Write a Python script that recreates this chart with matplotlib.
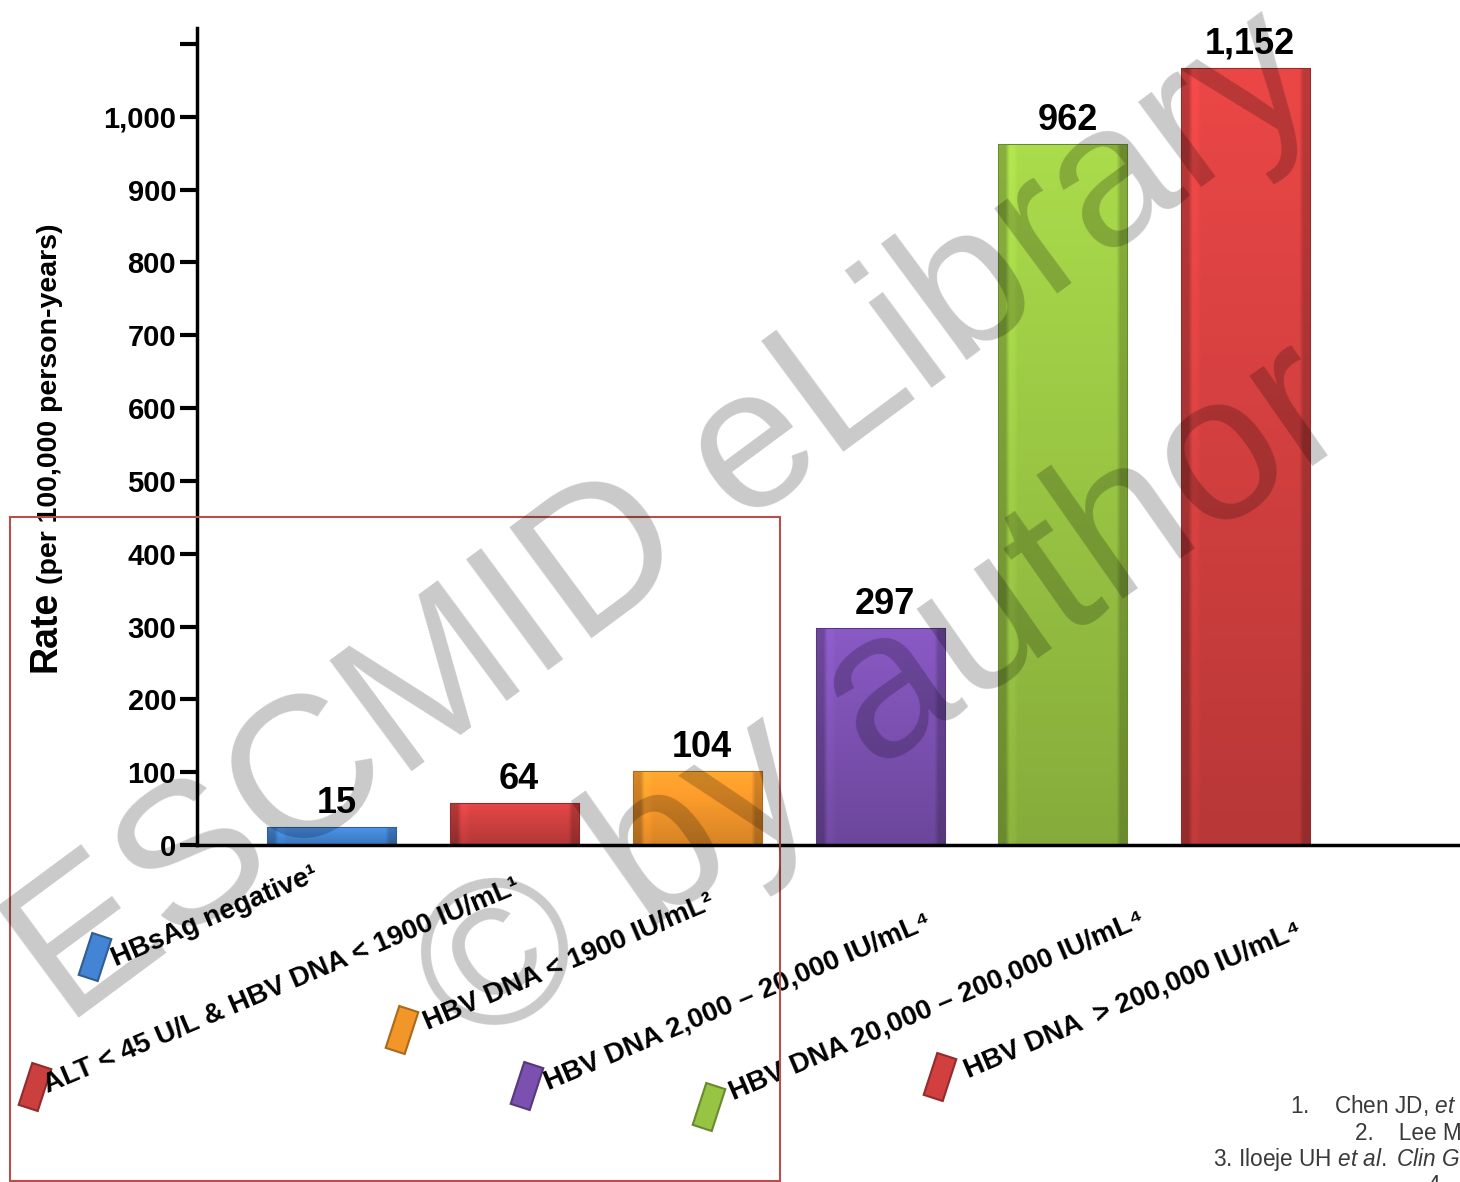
import numpy as np
import matplotlib.pyplot as plt
from matplotlib.patches import Rectangle
from matplotlib.transforms import Affine2D
from matplotlib.colors import to_rgb

# data
categories = ['HBsAg negative\u00b9',
              'ALT < 45 U/L & HBV DNA < 1900 IU/mL\u00b9',
              'HBV DNA < 1900 IU/mL\u00b2',
              'HBV DNA 2,000 \u2013 20,000 IU/mL\u2074',
              'HBV DNA 20,000 \u2013 200,000 IU/mL\u2074',
              'HBV DNA  > 200,000 IU/mL\u2074']
value_labels = ['15', '64', '104', '297', '962', '1,152']
bar_heights = [24, 56, 100, 297, 962, 1066]   # tops as drawn (last bar is cut short)
bar_colors = ['#4385d4', '#cc3f3f', '#f3962a', '#7b50b0', '#98c443', '#d23f3f']
yticks = [0, 100, 200, 300, 400, 500, 600, 700, 800, 900, 1000, 1100]
ytick_labels = ['0', '100', '200', '300', '400', '500', '600', '700', '800',
                '900', '1,000', '']
# reference lines, as far as they are visible
references = ['1.    Chen JD, $\\it{et}$',
              '2.    Lee M',
              '3. Iloeje UH $\\it{et\\ al.}$ $\\it{Clin\\ G}$',
              '4.']

plt.rcParams['font.family'] = ['Liberation Sans', 'DejaVu Sans']
plt.rcParams['mathtext.fontset'] = 'custom'
plt.rcParams['mathtext.rm'] = 'Liberation Sans'
plt.rcParams['mathtext.it'] = 'Liberation Sans:italic'

W, H = 1460, 1182
fig = plt.figure(figsize=(W / 100, H / 100), dpi=100)
# pixel coordinates, origin top-left
px = Affine2D().scale(1 / 100, -1 / 100).translate(0, H / 100) + fig.dpi_scale_trans

ax = fig.add_axes([197 / W, 1 - 845 / H, 1 - 197 / W, (845 - 28) / H])
x = np.arange(len(bar_heights))
bw = 0.70
bars = ax.bar(x, bar_heights, width=bw, color=bar_colors, zorder=2,
              linewidth=1.5, edgecolor=[tuple(c * 0.7 for c in to_rgb(col)) for col in bar_colors])

# bevel-ish shading inside each bar
for b, col in zip(bars, bar_colors):
    c = np.array(to_rgb(col))
    v = np.linspace(1.12, 0.88, 60)[:, None]
    h = np.ones(30)
    h[:2] = 0.8
    h[-2:] = 0.8
    h[2:4] = 1.05
    shade = v * h[None, :]
    img = np.clip(c[None, None, :] * shade[:, :, None], 0, 1)
    im = ax.imshow(img, extent=[b.get_x(), b.get_x() + b.get_width(), 0, b.get_height()],
                   aspect='auto', zorder=2.5, interpolation='bilinear')
    im.set_clip_path(b)

for xi, hi, lab in zip(x, bar_heights, value_labels):
    ax.annotate(lab, (xi, hi), xytext=(3, 5), textcoords='offset points',
                ha='center', va='bottom', fontsize=26, fontweight='bold')

ax.set_xlim(-0.74, 6.17)
ax.set_ylim(0, 1122)
ax.set_yticks(yticks)
ax.set_yticklabels(ytick_labels)
ax.set_xticks([])
for s in ['top', 'right']:
    ax.spines[s].set_visible(False)
for s in ['left', 'bottom']:
    ax.spines[s].set_linewidth(2.5)
    ax.spines[s].set_zorder(3)
ax.tick_params(axis='y', direction='out', length=12, width=3, pad=3, labelsize=21)
for t in ax.get_yticklabels():
    t.set_fontweight('bold')

# y label in two sizes
fig.text(45, 672, 'Rate', transform=px, rotation=90, ha='center', va='bottom',
         fontsize=27, fontweight='bold')
fig.text(50, 584, '(per 100,000 person-years)', transform=px, rotation=90,
         ha='center', va='bottom', fontsize=20.5, fontweight='bold')

# rotated category legend with little boxes
label_pos = [(116, 966), (48, 1093), (428, 1030), (548, 1090), (733, 1100), (968, 1078)]
marker_pos = [(95, 957), (35, 1087), (402, 1030), (527, 1086), (709, 1107), (940, 1077)]
for lab, (lx, ly), (mx, my), col in zip(categories, label_pos, marker_pos, bar_colors):
    fig.text(lx, ly, lab, transform=px, rotation=23, rotation_mode='anchor',
             ha='left', va='baseline', fontsize=20, fontweight='bold')
    fig.add_artist(Rectangle((mx - 10, my - 22), 20, 44, angle=18, rotation_point='center',
                             transform=px, facecolor=col,
                             edgecolor=tuple(c * 0.7 for c in to_rgb(col)), linewidth=1.5))

# red frame
fig.add_artist(Rectangle((10, 517), 770, 664, transform=px, fill=False,
                         edgecolor='#b5504c', linewidth=1.5, zorder=5))

# references, bottom right
ref_pos = [(1290, 1113), (1355, 1140), (1213, 1166), (1428, 1192)]
for r, (rx, ry) in zip(references, ref_pos):
    fig.text(rx, ry, r, transform=px, ha='left', va='baseline', fontsize=16.3,
             color='#3a3a3a')

# watermark
fig.text(665, 520, 'ESCMID eLibrary', transform=px, rotation=36.5, rotation_mode='anchor',
         ha='center', va='center', fontsize=145, color='black', alpha=0.21, zorder=10)
fig.text(885, 700, '\u00a9 by author', transform=px, rotation=35, rotation_mode='anchor',
         ha='center', va='center', fontsize=150, color='black', alpha=0.21, zorder=10)

fig.savefig('out.png', dpi=100)
